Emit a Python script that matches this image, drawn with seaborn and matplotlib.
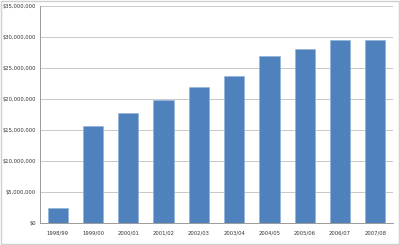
import matplotlib
matplotlib.use("Agg")
import matplotlib.pyplot as plt
import seaborn as sns
import pandas as pd
from matplotlib.patches import Rectangle
from matplotlib.ticker import FuncFormatter

years = ["1998/99", "1999/00", "2000/01", "2001/02", "2002/03", "2003/04",
         "2004/05", "2005/06", "2006/07", "2007/08"]
values = [2.5e6, 15.7e6, 17.8e6, 19.9e6, 22.0e6, 23.7e6, 27.0e6, 28.1e6, 29.5e6, 29.5e6]

df = pd.DataFrame({"year": years, "value": values})

sns.set_style("white")
fig = plt.figure(figsize=(4.0, 2.45), dpi=100)
ax = fig.add_axes([40/400, 1 - 223.3/245, (393-40)/400, (223.3-6)/245])

sns.barplot(data=df, x="year", y="value", color="#4F81BD", width=0.57,
            saturation=1, edgecolor="#8EAEDB", linewidth=0.4, ax=ax, zorder=3)

ax.set_ylim(0, 35e6)
ax.set_yticks([i * 5e6 for i in range(8)])
ax.yaxis.set_major_formatter(FuncFormatter(lambda v, p: "${:,.0f}".format(v)))
ax.grid(axis="y", color="#C8C8C8", linewidth=0.7, zorder=0)
ax.set_axisbelow(True)
ax.set_xlabel("")
ax.set_ylabel("")
ax.tick_params(axis="both", labelsize=3.8, length=0, pad=3, colors="#333333")
ax.tick_params(axis="x", pad=5)
for s in ["top", "right"]:
    ax.spines[s].set_visible(False)
for s in ["left", "bottom"]:
    ax.spines[s].set_color("#9A9A9A")
    ax.spines[s].set_linewidth(0.7)

fig.patches.append(Rectangle((0.002, 0.003), 0.995, 0.993, transform=fig.transFigure,
                             fill=False, edgecolor="#D0D0D0", linewidth=1.0))

fig.savefig("out.png", dpi=100)
